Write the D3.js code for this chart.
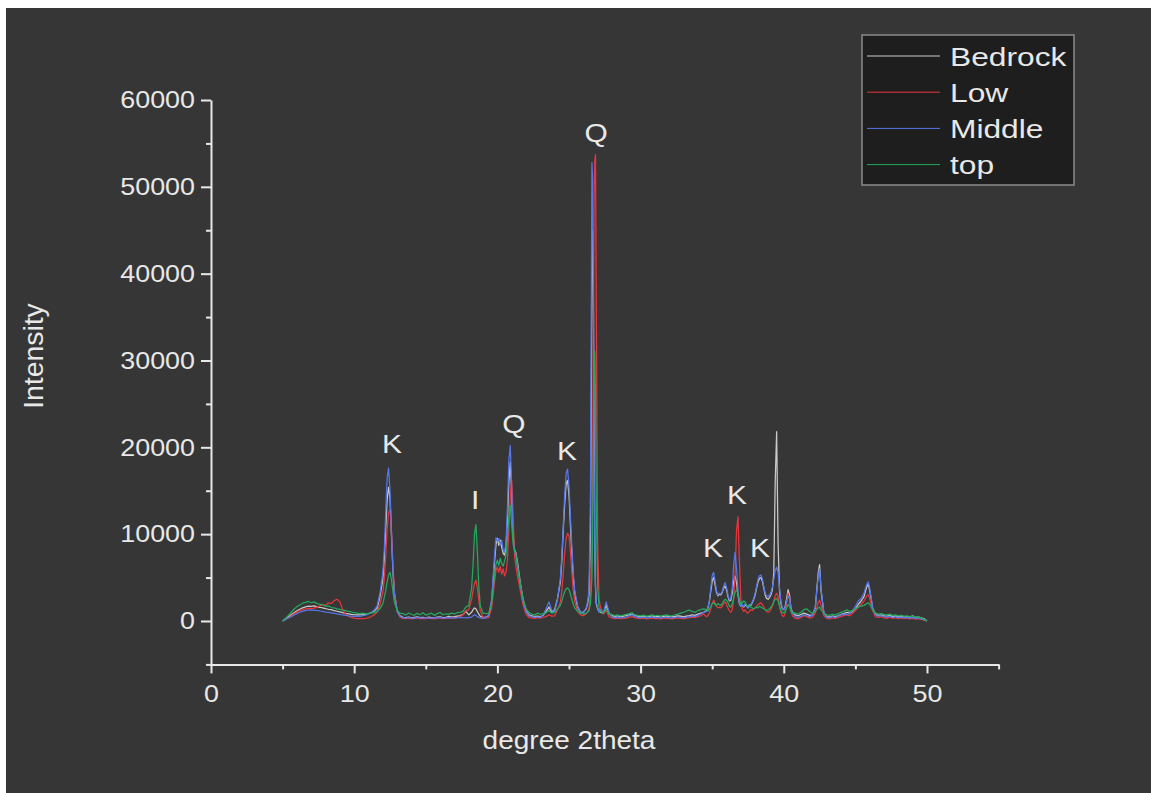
<!DOCTYPE html>
<html lang="en">
<head>
<meta charset="utf-8">
<title>XRD patterns</title>
<script src="https://d3js.org/d3.v7.min.js"></script>
<style>
  body { margin: 0; background: #ffffff; }
  svg { display: block; }
  text { font-family: "Liberation Sans", Arial, sans-serif; fill: #e8e8e8; }
  .axis path, .axis line { stroke: #e8e8e8; stroke-width: 2; }
</style>
</head>
<body>
<svg id="chart" width="1151" height="793"></svg>
<script>
// ---- data ----
var seriesNames = ["Bedrock", "Low", "Middle", "top"];
var seriesColors = ["#cacaca", "#e8363c", "#5677ea", "#22aa5c"];

var twoTheta = [
  5.0,5.2,5.4,5.6,5.8,6.0,6.2,6.4,6.6,6.8,7.0,7.2,7.4,7.6,7.8,8.0,8.2,8.4,8.6,8.8,9.0,9.2,9.4,9.6,9.8,10.0,10.2,10.4,10.6,10.8,11.0,11.2,11.4,11.6,
  11.8,12.0,12.1,12.2,12.3,12.4,12.5,12.6,12.7,12.8,13.0,13.2,
  13.4,13.6,13.8,14.0,14.2,14.4,14.6,14.8,15.0,15.2,15.4,15.6,15.8,16.0,16.2,16.4,16.6,16.8,17.0,17.2,17.4,17.6,17.8,
  18.0,18.2,18.3,18.4,18.5,18.6,18.7,18.8,19.0,19.2,
  19.4,19.6,19.8,19.9,20.0,20.1,20.2,20.3,20.4,20.5,20.6,20.7,20.8,20.9,21.0,21.1,21.2,21.3,21.4,21.6,21.8,22.0,22.2,
  22.4,22.6,22.8,23.0,23.2,23.4,23.6,23.8,24.0,24.2,
  24.4,24.5,24.6,24.7,24.8,24.9,25.0,25.1,25.2,25.3,25.4,25.6,25.8,26.0,26.2,26.3,26.4,26.5,26.6,26.65,26.7,26.75,26.8,26.85,26.9,27.0,27.1,27.2,27.4,27.6,27.8,
  28.0,28.2,28.4,28.6,28.8,29.0,29.2,29.4,29.6,29.8,30.0,30.2,30.4,30.6,30.8,31.0,31.2,31.4,31.6,31.8,32.0,32.2,32.4,32.6,32.8,33.0,33.2,33.4,33.6,33.8,34.0,34.2,34.4,
  34.6,34.7,34.8,34.9,35.0,35.1,35.2,35.3,35.4,35.5,35.6,35.7,35.8,35.9,36.0,36.1,36.2,36.3,36.4,36.5,
  36.6,36.7,36.8,36.9,37.0,37.1,37.2,37.3,37.4,37.5,37.6,37.7,37.8,37.9,38.0,38.1,38.2,38.3,38.4,38.5,
  38.6,38.7,38.8,38.9,39.0,39.1,39.2,39.3,39.4,39.5,39.6,39.7,39.8,39.9,40.0,40.1,40.2,40.3,40.4,40.5,40.6,
  40.8,41.0,41.2,41.4,41.6,41.8,42.0,42.2,42.4,42.5,42.6,
  42.8,43.0,43.2,43.4,43.6,43.8,44.0,44.2,44.4,44.6,44.8,45.0,45.2,45.4,45.6,45.8,45.9,46.0,
  46.2,46.4,46.6,46.8,47.0,47.2,47.4,47.6,47.8,48.0,48.2,48.4,48.6,48.8,49.0,49.2,49.4,49.6,49.8,50.0
];

var bedrock = [
  0,250,480,720,950,1180,1350,1520,1620,1700,1680,1750,1640,1580,1500,1420,1350,1300,1180,1120,1050,960,880,820,760,720,700,690,720,760,850,980,1150,1450,
  2800,4800,7000,10500,14000,15400,14200,10000,6000,3200,1200,600,
  420,380,450,360,410,480,390,430,370,460,400,350,440,480,400,430,520,460,500,560,620,750,1100,
  700,1000,1300,1500,1400,1100,800,550,420,450,
  600,2200,6800,8800,9500,8700,9300,8500,7800,7600,8500,11500,16000,18300,14500,9800,8200,7800,6800,4400,2400,1200,700,
  600,500,550,480,650,1100,1600,1000,1300,2600,
  4500,7000,10500,13500,15800,16200,14500,11000,7800,5000,3200,1600,1000,1000,1400,2000,3000,10000,38000,45000,40000,22000,9000,4000,2000,1400,1100,1000,900,1800,800,
  650,520,600,480,550,620,700,800,650,560,500,580,460,520,600,480,540,450,520,580,500,470,530,600,550,480,560,620,700,650,800,900,1000,
  1200,1500,2200,3400,4600,5000,4200,3300,2900,3100,3000,3300,3800,4000,3600,2800,2300,2400,3200,4600,
  5200,4400,3000,2000,1700,1800,1600,1900,1700,1500,1700,1800,2100,2500,3000,3800,4500,4900,5000,4600,
  3800,3000,2600,2500,2700,3000,3600,5500,16000,21800,9000,3500,2000,1400,1300,1700,2600,3600,3000,1500,1000,
  700,600,750,900,800,650,700,1500,5500,6500,3500,
  900,500,450,550,500,600,750,850,1000,900,1100,1400,1900,2300,2800,4000,4200,3500,
  1500,800,650,700,600,550,650,500,580,480,520,450,500,420,600,400,450,350,250,0
];

var low = [
  0,180,380,600,820,1020,1200,1320,1400,1450,1420,1480,1600,1750,1900,1800,2100,2000,2350,2500,2200,1300,800,550,420,330,280,260,270,300,380,520,700,1000,
  1900,3300,4800,7500,10500,12500,12800,10500,6800,3600,1100,450,
  300,260,330,240,300,350,280,310,260,330,290,250,320,340,280,300,360,330,380,420,520,700,1200,
  1300,2500,3500,4300,4700,3800,2400,1200,400,350,
  400,1500,4500,5800,6200,5600,6300,5400,6000,5200,5600,7000,10500,14500,16200,12000,7500,6200,5200,3500,1800,800,400,
  350,300,380,320,400,500,700,550,600,1300,
  2200,3500,5500,7800,9500,10100,9800,8000,5500,3500,2200,1100,700,600,800,1100,1500,3000,8000,16000,32000,48000,53000,53700,38000,9000,2500,1600,800,1200,500,
  350,280,320,260,300,340,420,500,380,300,260,320,240,280,330,260,300,230,290,320,260,240,300,350,300,260,320,380,450,400,500,600,800,
  500,600,900,1400,2000,2400,2100,1700,1500,1600,1500,1700,2000,2200,1900,1500,1200,1000,1300,2500,
  5500,10500,12000,7000,2500,1400,1100,1300,1000,900,1100,1300,1200,1400,1500,1700,1900,2000,2100,1900,
  1600,1300,1100,1000,1100,1300,1700,2300,2900,3200,2800,1800,1000,600,500,900,2000,3200,2600,1200,600,
  300,250,400,600,500,350,400,900,2100,2400,1800,
  600,300,250,350,300,400,500,650,700,600,900,1200,1600,1900,2300,2900,3000,2600,
  1200,500,400,500,350,300,450,300,380,280,350,260,320,250,300,220,280,180,100,0
];

var middle = [
  0,150,340,480,690,840,1010,1100,1220,1240,1290,1230,1210,1150,1110,1030,990,920,890,810,770,690,660,590,570,520,530,530,610,670,810,970,1260,1700,
  3200,5600,8200,12500,16500,17600,15000,10500,6000,3200,1100,550,
  380,330,400,350,310,420,360,330,390,340,300,380,350,410,330,360,400,350,330,380,420,380,350,
  400,450,600,700,650,500,400,350,300,350,
  700,2500,7500,9600,9200,9500,8800,9300,8200,8000,9000,13000,18500,20200,15000,9500,8000,7600,6500,4200,2200,1100,600,
  500,420,480,400,700,1400,2200,1200,1100,2500,
  5000,7500,11000,14500,17000,17500,15500,12000,8500,5500,3500,1700,1000,900,1500,2200,3500,15000,52800,51000,38000,20000,9000,4000,2200,1500,1000,1300,900,2200,1000,
  450,380,420,350,400,460,600,700,500,420,360,430,330,380,440,350,400,320,380,430,360,330,400,460,400,350,420,480,550,500,650,800,1000,
  1100,1500,2300,3800,5200,5600,4600,3500,3000,3200,3100,3400,4000,4400,3900,3000,2400,2600,3800,6500,
  7900,6000,3500,2100,1700,1900,1600,2000,1800,1500,1700,1900,2200,2600,3200,4000,4800,5200,5300,4900,
  4000,3200,2900,2800,3000,3300,3900,4800,5800,6200,5600,3800,2200,1500,1300,1600,2300,2900,2600,1400,900,
  500,400,550,700,600,500,650,1600,5200,6000,3800,
  900,400,350,500,400,550,700,800,750,850,1200,1700,2300,2600,3200,4300,4500,3800,
  1600,700,550,600,500,450,550,400,480,380,450,350,420,330,380,300,350,250,150,0
];

var top_ = [
  0,300,650,1000,1350,1650,1850,2050,2150,2250,2100,2200,2000,1950,1850,1700,1750,1550,1500,1400,1350,1250,1200,1100,1050,950,900,850,900,820,850,900,950,1100,
  1400,2000,2700,3500,4500,5300,5600,4800,3500,2200,1200,900,
  850,700,920,780,650,880,720,950,680,800,900,650,850,980,720,830,760,900,820,950,1000,1100,1600,
  1800,3800,6500,10000,11100,8000,4000,1800,900,850,
  900,2000,5200,6500,7000,6400,7200,6600,6300,6900,7600,9500,12000,13300,11000,8800,8200,7500,6200,4300,2500,1400,1000,
  800,700,900,750,850,950,1200,900,1000,1400,
  1800,2300,2900,3400,3700,3800,3600,3100,2500,1900,1500,1100,900,800,900,1000,1200,2000,5000,10000,20000,28000,31100,26000,14000,4000,1500,1100,900,1400,800,
  750,620,700,580,680,760,850,950,700,640,590,680,550,620,700,600,660,560,640,700,620,600,720,800,900,1000,1150,1250,1100,1000,1200,1300,1400,
  1300,1100,1400,1700,2000,2100,1900,1800,2000,1900,1800,2000,2300,2500,2400,2100,1700,1600,2000,2700,
  3300,3600,3200,2500,1900,2100,2300,2200,1800,1700,1900,1600,1500,1400,1500,1600,1500,1700,1600,1500,
  1400,1300,1200,1300,1400,1600,1800,2200,2500,2600,2300,1700,1200,1000,900,1100,1500,1900,1700,1100,900,
  900,800,1000,1300,1400,1100,900,1100,1500,1600,1300,
  900,700,650,750,700,850,1000,1100,1300,1100,1200,1400,1600,1700,1800,2000,2100,1900,
  1300,900,800,850,750,700,800,650,700,600,650,550,600,500,550,450,480,350,200,0
];

var xMajorTicks = [0, 10, 20, 30, 40, 50];
var xMinorTicks = [5, 15, 25, 35, 45, 55];
var yMajorTicks = [0, 10000, 20000, 30000, 40000, 50000, 60000];
var yMinorTicks = [-5000, 5000, 15000, 25000, 35000, 45000, 55000];

var peakLabels = ["K", "I", "Q", "K", "Q", "K", "K", "K"];
var peakX = [12.64, 18.44, 21.16, 24.86, 26.89, 35.06, 36.73, 38.34];
var peakY = [20400, 13900, 22700, 19600, 56200, 8400, 14500, 8400];

// ---- drawing ----
var svg = d3.select("#chart");

// stretch text horizontally like the source image
function widen(sel, k) {
  sel.each(function() {
    var w = this.getComputedTextLength();
    d3.select(this).attr("textLength", w * k).attr("lengthAdjust", "spacingAndGlyphs");
  });
}

svg.append("rect")
  .attr("x", 6).attr("y", 8)
  .attr("width", 1151 - 6).attr("height", 793 - 8)
  .attr("fill", "#363636");

var x = d3.scaleLinear().domain([0, 55]).range([211, 998.6]);
var y = d3.scaleLinear().domain([-5000, 60000]).range([664.4, 100]);

var series = [bedrock, low, middle, top_];
var n = d3.min(series, function(s) { return s.length; });
n = Math.min(n, twoTheta.length);

var line = d3.line()
  .x(function(d) { return x(d[0]); })
  .y(function(d) { return y(d[1]); });

var plot = svg.append("g");
series.forEach(function(vals, i) {
  var pts = d3.range(n).map(function(j) { return [twoTheta[j], vals[j]]; });
  plot.append("path")
    .datum(pts)
    .attr("fill", "none")
    .attr("stroke", seriesColors[i])
    .attr("stroke-width", 1.25)
    .attr("stroke-linejoin", "round")
    .attr("d", line);
});

// axes
var xAxisG = svg.append("g").attr("class", "axis")
  .attr("transform", "translate(0," + y(-5000) + ")");
xAxisG.call(d3.axisBottom(x).tickValues(xMajorTicks).tickSizeInner(9).tickSizeOuter(0).tickPadding(12).tickFormat(d3.format("d")));
xAxisG.append("g").call(d3.axisBottom(x).tickValues(xMinorTicks).tickSizeInner(5).tickSizeOuter(0).tickFormat(""))
  .select(".domain").remove();

var yAxisG = svg.append("g").attr("class", "axis")
  .attr("transform", "translate(" + x(0) + ",0)");
yAxisG.call(d3.axisLeft(y).tickValues(yMajorTicks).tickSizeInner(10).tickSizeOuter(0).tickPadding(6).tickFormat(d3.format("d")));
yAxisG.append("g").call(d3.axisLeft(y).tickValues(yMinorTicks).tickSizeInner(5).tickSizeOuter(0).tickFormat(""))
  .select(".domain").remove();

svg.selectAll(".axis text")
  .attr("font-family", "Liberation Sans, Arial, sans-serif")
  .attr("font-size", 24)
  .attr("fill", "#e8e8e8");
widen(svg.selectAll(".axis text"), 1.12);

// axis titles
var xTitle = svg.append("text")
  .attr("x", x(25)).attr("y", 749)
  .attr("text-anchor", "middle")
  .attr("font-size", 25)
  .text("degree 2theta");
widen(xTitle, 1.12);

var yTitle = svg.append("text")
  .attr("transform", "translate(43,356) rotate(-90)")
  .attr("text-anchor", "middle")
  .attr("font-size", 27)
  .text("Intensity");
widen(yTitle, 1.05);

// peak annotations
var anno = svg.append("g");
peakLabels.forEach(function(lbl, i) {
  anno.append("text")
    .attr("x", x(peakX[i]))
    .attr("y", y(peakY[i]))
    .attr("text-anchor", "middle")
    .attr("dominant-baseline", "central")
    .attr("font-size", 26)
    .text(lbl);
});
widen(anno.selectAll("text"), 1.15);

// legend
var legend = svg.append("g");
legend.append("rect")
  .attr("x", 862).attr("y", 35)
  .attr("width", 212).attr("height", 150)
  .attr("fill", "#1e1e1e")
  .attr("stroke", "#8c8c8c")
  .attr("stroke-width", 1.5);

seriesNames.forEach(function(name, i) {
  var ly = 56 + i * 36.2;
  legend.append("line")
    .attr("x1", 867).attr("x2", 940)
    .attr("y1", ly).attr("y2", ly)
    .attr("stroke", seriesColors[i])
    .attr("stroke-width", 1);
  legend.append("text")
    .attr("x", 950).attr("y", ly + 9.5)
    .attr("font-size", 26)
    .text(name);
});
widen(legend.selectAll("text"), 1.22);
</script>
</body>
</html>
